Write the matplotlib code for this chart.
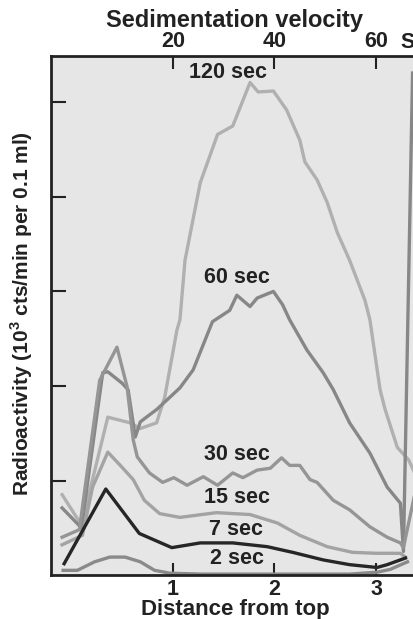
import matplotlib
matplotlib.use('Agg')
import matplotlib.pyplot as plt

# curves: distance from top (x) and radioactivity (y)
x_120 = [-0.09, 0.10, 0.36, 0.58, 0.68, 0.84, 0.92, 1.04, 1.07, 1.12, 1.27, 1.44, 1.59, 1.76, 1.84,
         1.99, 2.12, 2.25, 2.30, 2.42, 2.52, 2.62, 2.74, 2.84, 2.89, 2.94, 3.04, 3.09, 3.21, 3.32, 3.39]
y_120 = [0.85, 0.53, 1.67, 1.61, 1.55, 1.61, 1.88, 2.59, 2.70, 3.33, 4.15, 4.66, 4.75, 5.21, 5.11,
         5.12, 4.92, 4.60, 4.37, 4.18, 3.94, 3.62, 3.33, 3.05, 2.91, 2.70, 1.96, 1.75, 1.35, 1.22, 1.06]

x_60 = [-0.09, 0.10, 0.31, 0.36, 0.50, 0.56, 0.63, 0.68, 0.74, 0.84, 0.92, 1.07, 1.20, 1.39, 1.56,
        1.63, 1.76, 1.83, 1.99, 2.08, 2.15, 2.32, 2.48, 2.58, 2.74, 2.94, 3.11, 3.24, 3.27, 3.36]
y_60 = [0.71, 0.50, 2.14, 2.15, 2.03, 1.96, 1.46, 1.62, 1.67, 1.75, 1.83, 1.98, 2.17, 2.68, 2.80,
        2.96, 2.84, 2.93, 3.00, 2.86, 2.70, 2.38, 2.14, 1.96, 1.61, 1.29, 0.93, 0.76, 0.25, 5.31]

x_30 = [-0.09, 0.08, 0.28, 0.45, 0.55, 0.61, 0.65, 0.77, 0.90, 1.01, 1.14, 1.30, 1.44, 1.59, 1.69,
        1.83, 1.96, 2.07, 2.15, 2.25, 2.35, 2.42, 2.58, 2.74, 2.94, 3.11, 3.24, 3.27, 3.39]
y_30 = [0.40, 0.48, 2.06, 2.41, 1.99, 1.43, 1.25, 1.08, 0.98, 1.03, 0.95, 1.04, 0.95, 1.08, 1.03,
        1.11, 1.13, 1.24, 1.16, 1.16, 1.01, 0.98, 0.79, 0.69, 0.51, 0.40, 0.34, 0.29, 0.90]

x_15 = [-0.09, 0.11, 0.21, 0.36, 0.50, 0.61, 0.72, 0.87, 1.07, 1.43, 1.76, 2.03, 2.25, 2.52, 2.77,
        3.01, 3.24, 3.29]
y_15 = [0.32, 0.42, 0.93, 1.30, 1.14, 1.01, 0.79, 0.65, 0.61, 0.66, 0.64, 0.55, 0.42, 0.30, 0.24,
        0.23, 0.23, 0.19]

x_7 = [-0.07, 0.34, 0.67, 0.99, 1.27, 1.59, 1.93, 2.18, 2.48, 2.74, 3.01, 3.11, 3.29]
y_7 = [0.12, 0.91, 0.44, 0.29, 0.34, 0.34, 0.30, 0.24, 0.16, 0.11, 0.08, 0.11, 0.18]

x_2 = [-0.08, 0.06, 0.23, 0.38, 0.53, 0.68, 0.82, 0.97, 1.27, 1.76, 2.25, 2.74, 3.01, 3.14, 3.31]
y_2 = [0.05, 0.05, 0.14, 0.19, 0.19, 0.14, 0.05, 0.02, 0.01, 0.01, 0.01, 0.01, 0.03, 0.06, 0.14]

labels = ['120 sec', '60 sec', '30 sec', '15 sec', '7 sec', '2 sec']
label_x = [1.54, 1.63, 1.63, 1.63, 1.62, 1.63]
label_y = [5.32, 3.15, 1.27, 0.82, 0.48, 0.18]

bottom_ticks = [1, 2, 3]
top_ticks = [20, 40, 60]

plt.rcParams['font.family'] = ['Liberation Sans', 'DejaVu Sans']
plt.rcParams['font.weight'] = 'bold'
plt.rcParams['mathtext.fontset'] = 'custom'
plt.rcParams['mathtext.bf'] = 'Liberation Sans:bold'

fs = 15.5
ink = '#222222'

fig = plt.figure(figsize=(4.14, 6.19), dpi=100)
ax = fig.add_axes([0.123, 0.071, 0.877, 0.8385])
ax.set_facecolor('#e6e6e6')

lw = 2.4
ax.plot(x_120, y_120, color='#b0b0b0', lw=lw)
ax.plot(x_60, y_60, color='#878787', lw=lw)
ax.plot(x_30, y_30, color='#959595', lw=lw)
ax.plot(x_15, y_15, color='#a3a3a3', lw=lw)
ax.plot(x_2, y_2, color='#8a8a8a', lw=lw)
ax.plot(x_7, y_7, color='#262626', lw=lw)

for t, lx, ly in zip(labels, label_x, label_y):
    ax.text(lx, ly, t, ha='center', va='center', fontsize=fs, fontweight='bold', color=ink)

ax.set_xlim(-0.2, 3.374)
ax.set_ylim(0, 5.49)

ax.set_xticks(bottom_ticks)
ax.set_xticklabels([str(t) for t in bottom_ticks])
ax.set_yticks([1, 2, 3, 4, 5])
ax.set_yticklabels([])
ax.tick_params(axis='x', direction='in', length=9, width=1.5, color=ink,
               labelsize=fs, pad=2.5, labelcolor=ink)
ax.tick_params(axis='y', direction='in', length=11, width=1.5, color=ink)

# top axis: sedimentation velocity, ticks line up with 1, 2, 3
top = ax.secondary_xaxis('top', functions=(lambda d: d * 20, lambda s: s / 20))
top.set_xticks(top_ticks)
top.set_xticklabels(['20', '40', '60'])
top.tick_params(direction='in', length=9, width=1.5, color=ink, labelsize=fs, pad=3,
                labelcolor=ink)
ax.text(3.31, (575 - 42) / 519, 'S', transform=ax.get_xaxis_transform(), fontsize=fs,
        fontweight='bold', color=ink, ha='center', va='center')

fig.text(235 / 414, 1 - 20 / 619, 'Sedimentation velocity', fontsize=17, fontweight='bold',
         color=ink, ha='center', va='center')
fig.text(235 / 414, 1 - 609 / 619, 'Distance from top', fontsize=16, fontweight='bold',
         color=ink, ha='center', va='center')
fig.text(22 / 414, 1 - 314 / 619, 'Radioactivity (10$^{\\mathbf{3}}$ cts/min per 0.1 ml)',
         fontsize=15, fontweight='bold', color=ink, ha='center', va='center', rotation=90)

for s in ['left', 'bottom']:
    ax.spines[s].set_linewidth(2)
    ax.spines[s].set_color(ink)
ax.spines['right'].set_visible(False)
ax.spines['top'].set_visible(False)
top.spines['top'].set_linewidth(2)
top.spines['top'].set_color(ink)

fig.savefig('out.png', dpi=100)
